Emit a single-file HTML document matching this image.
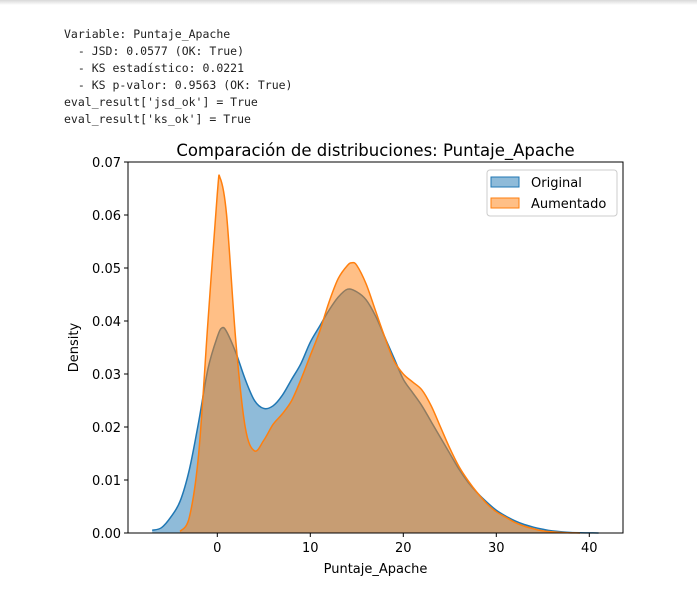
<!DOCTYPE html>
<html><head><meta charset="utf-8"><style>
body{margin:0;background:#fff;width:697px;height:603px;overflow:hidden;position:relative;font-family:"DejaVu Sans","Liberation Sans",sans-serif}
#topbar{position:absolute;left:0;top:0;width:697px;height:5px;background:linear-gradient(#d8d8d8,#fff)}
#log{position:absolute;left:64px;top:26px;font-family:"DejaVu Sans Mono","Liberation Mono",monospace;font-size:11.5px;line-height:17px;color:#222;white-space:pre;margin:0}
svg{position:absolute;left:0;top:0;font-family:"DejaVu Sans","Liberation Sans",sans-serif}
</style></head><body>
<div id="topbar"></div>
<pre id="log">Variable: Puntaje_Apache
  - JSD: 0.0577 (OK: True)
  - KS estadístico: 0.0221
  - KS p-valor: 0.9563 (OK: True)
eval_result['jsd_ok'] = True
eval_result['ks_ok'] = True</pre>
<svg id="chart" width="697" height="603"></svg>
<script>
const origX=[-7,-6,-5,-4,-3,-2,-1,0,0.5,1,2,3,4,5,6,7,8,9,10,11,12,13,14,15,16,17,18,19,20,21,22,23,24,25,26,27,28,29,30,31,32,33,34,35,36,38,41];
const origY=[0.0005,0.001,0.003,0.006,0.012,0.021,0.031,0.037,0.0387,0.038,0.034,0.029,0.025,0.0235,0.024,0.026,0.029,0.032,0.036,0.039,0.042,0.0445,0.046,0.0455,0.044,0.041,0.037,0.033,0.029,0.0265,0.024,0.021,0.018,0.015,0.012,0.0095,0.0075,0.0058,0.0043,0.0032,0.0023,0.0016,0.0011,0.0007,0.0004,0.0001,0];
const augX=[-4,-3,-2,-1,0,0.3,1,2,3,4,5,6,7,8,9,10,11,12,13,14,14.5,15,16,17,18,19,20,21,22,23,24,25,26,27,28,29,30,31,32,33,34,35,37,39];
const augY=[0.0003,0.003,0.015,0.040,0.064,0.067,0.060,0.036,0.020,0.0155,0.0175,0.0205,0.0225,0.025,0.029,0.0335,0.038,0.0435,0.048,0.0505,0.051,0.0505,0.047,0.042,0.037,0.0325,0.030,0.0285,0.027,0.024,0.020,0.016,0.0125,0.0098,0.0075,0.0055,0.004,0.003,0.002,0.0013,0.0008,0.0004,0.0001,0];
const xTicks=[0,10,20,30,40];
const yTicks=[0,0.01,0.02,0.03,0.04,0.05,0.06,0.07];
const L=128,R=623,T=162,B=533;
const sx=v=>217.3+v*9.3;
const sy=v=>B-v/0.07*(B-T);
const svg=document.getElementById('chart');
const NS='http://www.w3.org/2000/svg';
function mk(tag,attrs,parent){const e=document.createElementNS(NS,tag);for(const k in attrs)e.setAttribute(k,attrs[k]);(parent||svg).appendChild(e);return e;}
function curve(xs,ys){const p=xs.map((x,i)=>[sx(x),sy(ys[i])]);let d='M'+p[0][0]+','+p[0][1];
for(let i=0;i<p.length-1;i++){const p0=p[i-1]||p[i],p1=p[i],p2=p[i+1],p3=p[i+2]||p2;
d+=' C'+(p1[0]+(p2[0]-p0[0])/6)+','+(p1[1]+(p2[1]-p0[1])/6)+' '+(p2[0]-(p3[0]-p1[0])/6)+','+(p2[1]-(p3[1]-p1[1])/6)+' '+p2[0]+','+p2[1];}
return d;}
function series(xs,ys,col,name){const c=curve(xs,ys);
const a=mk('path',{d:c+' L'+sx(xs[xs.length-1])+','+B+' L'+sx(xs[0])+','+B+' Z',fill:col,'fill-opacity':0.5,stroke:'none'});


const l=mk('path',{d:c,fill:'none',stroke:col,'stroke-width':1.5});

}
series(origX,origY,'#1f77b4','original');
series(augX,augY,'#ff7f0e','aumentado');
const frame=mk('rect',{x:L,y:T,width:R-L,height:B-T,fill:'none',stroke:'#000','stroke-width':1});


xTicks.forEach(v=>{mk('line',{x1:sx(v),x2:sx(v),y1:B,y2:B+4,stroke:'#000'});
const t=mk('text',{x:sx(v),y:B+19,'text-anchor':'middle','font-size':13,fill:'#000'});t.textContent=v;

});
yTicks.forEach(v=>{mk('line',{x1:L-4,x2:L,y1:sy(v),y2:sy(v),stroke:'#000'});
const t=mk('text',{x:L-7,y:sy(v)+5,'text-anchor':'end','font-size':13,fill:'#000'});t.textContent=v.toFixed(2);

});
const xt=mk('text',{x:(L+R)/2,y:573,'text-anchor':'middle','font-size':13});xt.textContent='Puntaje_Apache';


const yt=mk('text',{x:78,y:(T+B)/2,'text-anchor':'middle','font-size':13,transform:'rotate(-90 78 '+(T+B)/2+')'});yt.textContent='Density';


const tt=mk('text',{x:(L+R)/2,y:156,'text-anchor':'middle','font-size':16.5});tt.textContent='Comparación de distribuciones: Puntaje_Apache';


const lg=mk('g',{});


mk('rect',{x:487,y:170,width:130,height:46,rx:3,fill:'#fff','fill-opacity':0.8,stroke:'#ccc'},lg);
[['Original','#1f77b4',182],['Aumentado','#ff7f0e',203]].forEach(([n,c,y])=>{
const e=mk('g',{},lg);


mk('rect',{x:491,y:y-5,width:28,height:10,fill:c,'fill-opacity':0.5,stroke:c},e);
const t=mk('text',{x:531,y:y+5,'font-size':13},e);t.textContent=n;});
</script>
</body></html>
